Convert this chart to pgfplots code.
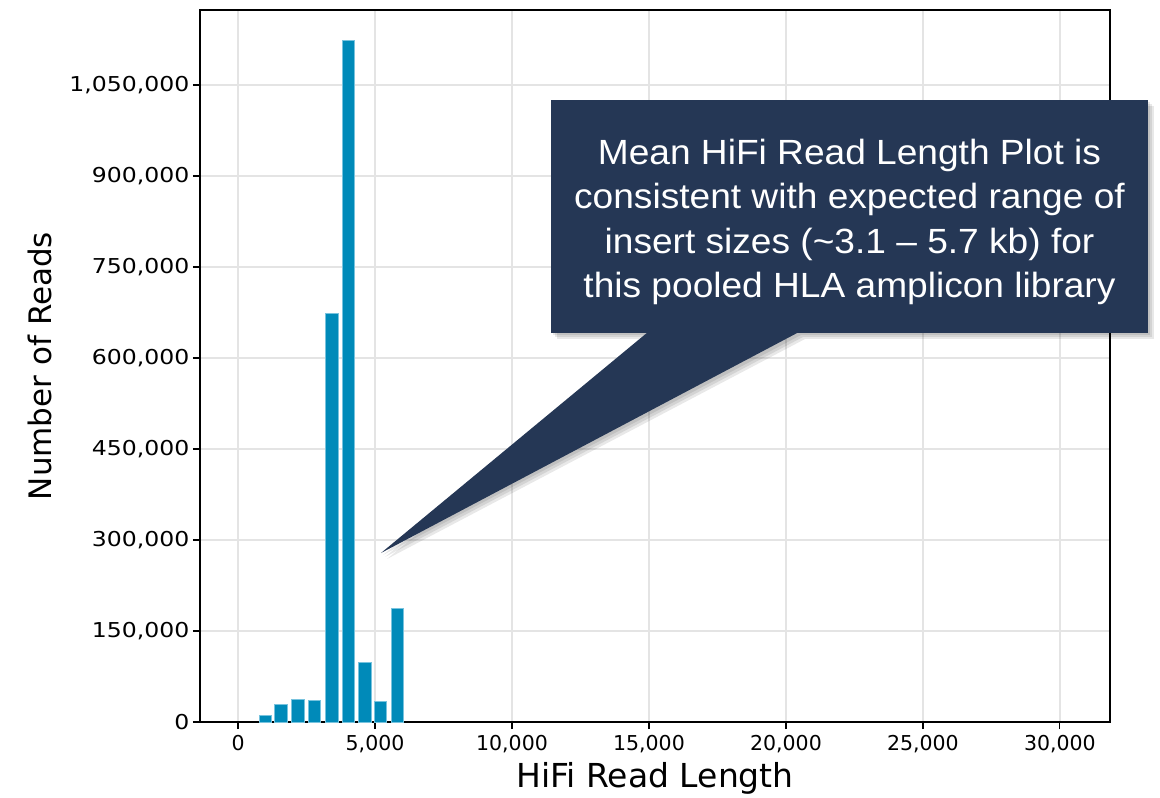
\documentclass[border=0pt]{standalone}
\usepackage{fontspec}
\usepackage{pgfplots}
\pgfplotsset{compat=1.18}
\setmainfont{DejaVu Sans}
\newfontfamily\tickfont{DejaVu Sans}
\newfontfamily\ytickfont[FakeStretch=1.15]{DejaVu Sans}
\newfontfamily\calloutfont[FakeStretch=1.06]{Liberation Sans}
\definecolor{barblue}{RGB}{0,138,185}
\definecolor{baredge}{RGB}{120,195,222}
\definecolor{navy}{RGB}{37,55,85}
\definecolor{gridgray}{RGB}{228,228,228}

\begin{document}
\begin{tikzpicture}[x=1pt,y=1pt]
\path[use as bounding box] (0,0) rectangle (1160,-798);
\begin{axis}[
  at={(200pt,-722pt)}, anchor=south west,
  scale only axis, width=910pt, height=712pt,
  xmin=-1390, xmax=31830, ymin=0, ymax=1173600,
  axis line style={black, line width=1.4pt},
  grid=major,
  major grid style={gridgray, line width=1.3pt},
  tick pos=left, tick align=outside,
  major tick length=7pt,
  tick style={black, line width=1.2pt},
  xtick={0,5000,10000,15000,20000,25000,30000},
  ytick={0,150000,300000,450000,600000,750000,900000,1050000},
  scaled x ticks=false, scaled y ticks=false,
  /pgf/number format/.cd, fixed, precision=0, 1000 sep={,}, assume math mode=true,
  /pgfplots/.cd,
  xticklabel style={font=\tickfont\fontsize{20.5}{24}\selectfont, yshift=-3pt},
  yticklabel style={font=\ytickfont\fontsize{20.5}{24}\selectfont},
  xlabel={HiFi Read Length},
  ylabel={Number of Reads},
  xlabel style={font=\fontsize{33}{40}\selectfont, at={(axis description cs:0.5,-0.0787)}, anchor=center},
  ylabel style={font=\fontsize{31}{38}\selectfont, at={(axis description cs:-0.1758,0.5)}, anchor=center},
]
\addplot[ybar, bar width=460, bar shift=0pt, fill=barblue, draw=baredge, line width=0.8pt]
  coordinates {
    (996,11400) (1562,28800) (2179,37100) (2792,34800) (3420,672700)
    (4026,1122700) (4628,98500) (5201,33300) (5814,187900)
  };
\end{axis}
% callout
\begin{scope}
  \foreach \d in {2,4,6} {
    \fill[black, opacity=0.09] (551+\d,-100-\d) rectangle (1148+\d,-333-\d);
    \fill[black, opacity=0.09] (648+\d,-333-\d) -- (381+\d,-553-\d) -- (799+\d,-333-\d) -- cycle;
  }
  \fill[navy] (648,-332) -- (381,-553) -- (799,-332) -- cycle;
  \fill[navy] (551,-100) rectangle (1148,-333);
  \foreach \t/\yy in {{Mean HiFi Read Length Plot is}/-164,
                      {consistent with expected range of}/-208,
                      {insert sizes (\textasciitilde 3.1 – 5.7 kb) for}/-253,
                      {this pooled HLA amplicon library}/-297} {
    \node[anchor=base, white, inner sep=0pt, font=\calloutfont\fontsize{35}{44}\selectfont] at (849.5,\yy) {\t};
  }
\end{scope}
\end{tikzpicture}
\end{document}
